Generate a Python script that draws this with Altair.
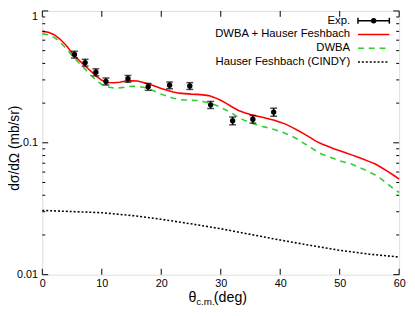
import altair as alt
import pandas as pd

# ---------------- data ----------------
exp_theta = [5.4, 7.2, 9.0, 10.7, 14.4, 17.8, 21.4, 24.8, 28.3, 32.0, 35.4, 38.9]
exp_sigma = [0.467, 0.406, 0.343, 0.292, 0.306, 0.266, 0.273, 0.270, 0.194, 0.147, 0.151, 0.171]
exp_err = [0.028, 0.024, 0.021, 0.018, 0.018, 0.016, 0.016, 0.016, 0.012, 0.010, 0.010, 0.012]

red_theta = list(range(0, 61))
red_sigma = [0.70, 0.69, 0.66, 0.61, 0.55, 0.48, 0.43, 0.39, 0.355, 0.322,
             0.298, 0.287, 0.285, 0.288, 0.294, 0.296, 0.294, 0.287, 0.278, 0.268,
             0.258, 0.250, 0.243, 0.238, 0.236, 0.234, 0.233, 0.231, 0.228, 0.220,
             0.210, 0.198, 0.186, 0.176, 0.169, 0.164, 0.160, 0.156, 0.152, 0.148,
             0.143, 0.138, 0.131, 0.124, 0.117, 0.110, 0.103, 0.098, 0.094, 0.090,
             0.087, 0.084, 0.081, 0.078, 0.075, 0.072, 0.069, 0.065, 0.061, 0.057,
             0.053]

green_theta = list(range(0, 61))
green_sigma = [0.67, 0.66, 0.63, 0.58, 0.52, 0.46, 0.41, 0.37, 0.33, 0.30,
               0.277, 0.265, 0.260, 0.261, 0.265, 0.268, 0.268, 0.264, 0.256, 0.245,
               0.234, 0.225, 0.218, 0.213, 0.211, 0.210, 0.209, 0.206, 0.201, 0.194,
               0.186, 0.176, 0.166, 0.156, 0.148, 0.142, 0.137, 0.133, 0.130, 0.126,
               0.122, 0.117, 0.112, 0.106, 0.099, 0.093, 0.087, 0.082, 0.079, 0.076,
               0.073, 0.071, 0.069, 0.066, 0.063, 0.060, 0.057, 0.053, 0.049, 0.045,
               0.042]

hf_theta = [0, 5, 10, 15, 20, 25, 30, 35, 40, 45, 50, 55, 60]
hf_sigma = [0.0307, 0.0301, 0.0295, 0.0281, 0.0263, 0.0243, 0.0223, 0.0202, 0.0183,
            0.0167, 0.0153, 0.0143, 0.0136]

x_ticks = [0, 10, 20, 30, 40, 50, 60]
y_major = [0.01, 0.1, 1]
y_minor = [0.02, 0.03, 0.04, 0.05, 0.06, 0.07, 0.08, 0.09,
           0.2, 0.3, 0.4, 0.5, 0.6, 0.7, 0.8, 0.9]

legend_labels = ["Exp.", "DWBA + Hauser Feshbach", "DWBA", "Hauser Feshbach (CINDY)"]

# ---------------- layout ----------------
W, H = 364, 269
FONT = "Liberation Sans"
RED = "#ff0000"
GREEN = "#33cc33"

xscale = alt.Scale(domain=[0, 60], nice=False, zero=False)
yscale = alt.Scale(type="log", domain=[0.01, 1], nice=False)

x_axis = alt.Axis(values=x_ticks, title=None, domain=False, ticks=False, grid=False,
                  labelFont=FONT, labelFontSize=11, labelColor="black",
                  labelPadding=3, labelFlush=False, labelOverlap=False)
y_axis = alt.Axis(values=y_major, format="~g", title=None, domain=False, ticks=False,
                  grid=False, labelFont=FONT, labelFontSize=11, labelColor="black",
                  labelPadding=5, labelFlush=False, labelOverlap=False,
                  labelBaseline=alt.expr("datum.value == 1 ? 'top' : 'middle'"))


def X(field):
    return alt.X(field, type="quantitative", scale=xscale, axis=x_axis)


def Y(field):
    return alt.Y(field, type="quantitative", scale=yscale, axis=y_axis)


exp_df = pd.DataFrame({
    "theta": exp_theta,
    "sigma": exp_sigma,
    "lo": [s - e for s, e in zip(exp_sigma, exp_err)],
    "hi": [s + e for s, e in zip(exp_sigma, exp_err)],
})
red_df = pd.DataFrame({"theta": red_theta, "sigma": red_sigma})
green_df = pd.DataFrame({"theta": green_theta, "sigma": green_sigma})
hf_df = pd.DataFrame({"theta": hf_theta, "sigma": hf_sigma})
xt_df = pd.DataFrame({"v": x_ticks})
ymaj_df = pd.DataFrame({"v": y_major})
ymin_df = pd.DataFrame({"v": y_minor})
one = pd.DataFrame({"k": [0]})

# curves
hf_line = alt.Chart(hf_df).mark_line(color="black", strokeWidth=1.6, strokeDash=[2, 2]).encode(
    x=X("theta"), y=Y("sigma"))
green_line = alt.Chart(green_df).mark_line(color=GREEN, strokeWidth=1.6, strokeDash=[6, 5]).encode(
    x=X("theta"), y=Y("sigma"))
red_line = alt.Chart(red_df).mark_line(color=RED, strokeWidth=1.6).encode(
    x=X("theta"), y=Y("sigma"))

# experimental points
err_bar = alt.Chart(exp_df).mark_rule(color="black", strokeWidth=1.5).encode(
    x=X("theta"), y=Y("lo"), y2="hi")
cap_lo = alt.Chart(exp_df).mark_tick(color="black", orient="horizontal", size=7, thickness=1.5).encode(
    x=X("theta"), y=Y("lo"))
cap_hi = alt.Chart(exp_df).mark_tick(color="black", orient="horizontal", size=7, thickness=1.5).encode(
    x=X("theta"), y=Y("hi"))
pts = alt.Chart(exp_df).mark_circle(color="black", size=30, opacity=1).encode(
    x=X("theta"), y=Y("sigma"))

# inward ticks on all four sides
tick_style = dict(color="black", strokeWidth=1)
xt_bot = alt.Chart(xt_df).mark_rule(**tick_style).encode(
    x=X("v"), y=alt.value(H), y2=alt.value(H - 6))
xt_top = alt.Chart(xt_df).mark_rule(**tick_style).encode(
    x=X("v"), y=alt.value(0), y2=alt.value(6))
yt_maj_l = alt.Chart(ymaj_df).mark_rule(**tick_style).encode(
    y=Y("v"), x=alt.value(0), x2=alt.value(6))
yt_maj_r = alt.Chart(ymaj_df).mark_rule(**tick_style).encode(
    y=Y("v"), x=alt.value(W), x2=alt.value(W - 6))
yt_min_l = alt.Chart(ymin_df).mark_rule(**tick_style).encode(
    y=Y("v"), x=alt.value(0), x2=alt.value(3))
yt_min_r = alt.Chart(ymin_df).mark_rule(**tick_style).encode(
    y=Y("v"), x=alt.value(W), x2=alt.value(W - 3))

# legend (gnuplot style: text to the left of the sample)
LX_T = 314
LX0, LX1 = 322, 354
rows = [10, 24, 38, 52]
leg = []
for lab, ry in zip(legend_labels, rows):
    leg.append(alt.Chart(one).mark_text(align="right", baseline="middle", font=FONT,
                                        fontSize=11.5, color="black").encode(
        x=alt.value(LX_T), y=alt.value(ry), text=alt.value(lab)))
leg.append(alt.Chart(one).mark_rule(color="black", strokeWidth=1.5).encode(
    x=alt.value(LX0), x2=alt.value(LX1), y=alt.value(rows[0])))
leg.append(alt.Chart(one).mark_rule(color="black", strokeWidth=1.5).encode(
    x=alt.value(LX0), y=alt.value(rows[0] - 3), y2=alt.value(rows[0] + 3)))
leg.append(alt.Chart(one).mark_rule(color="black", strokeWidth=1.5).encode(
    x=alt.value(LX1), y=alt.value(rows[0] - 3), y2=alt.value(rows[0] + 3)))
leg.append(alt.Chart(one).mark_circle(color="black", size=30, opacity=1).encode(
    x=alt.value((LX0 + LX1) / 2), y=alt.value(rows[0])))
leg.append(alt.Chart(one).mark_rule(color=RED, strokeWidth=1.6).encode(
    x=alt.value(LX0), x2=alt.value(LX1), y=alt.value(rows[1])))
leg.append(alt.Chart(one).mark_rule(color=GREEN, strokeWidth=1.6, strokeDash=[6, 5]).encode(
    x=alt.value(LX0), x2=alt.value(LX1), y=alt.value(rows[2])))
leg.append(alt.Chart(one).mark_rule(color="black", strokeWidth=1.6, strokeDash=[2, 2]).encode(
    x=alt.value(LX0), x2=alt.value(LX1), y=alt.value(rows[3])))

# axis titles
ytitle = alt.Chart(one).mark_text(align="center", baseline="middle", angle=270, font=FONT,
                                  fontSize=14, color="black").encode(
    x=alt.value(-27.5), y=alt.value(140), text=alt.value("dσ/dΩ (mb/sr)"))
xt_theta = alt.Chart(one).mark_text(align="left", baseline="alphabetic", font=FONT,
                                    fontSize=14.5, color="black").encode(
    x=alt.value(149), y=alt.value(297), text=alt.value("θ"))
xt_sub = alt.Chart(one).mark_text(align="left", baseline="alphabetic", font=FONT,
                                  fontSize=10, color="black").encode(
    x=alt.value(157), y=alt.value(300), text=alt.value("c.m."))
xt_deg = alt.Chart(one).mark_text(align="left", baseline="alphabetic", font=FONT,
                                  fontSize=14.5, color="black").encode(
    x=alt.value(175), y=alt.value(297), text=alt.value("(deg)"))

chart = alt.layer(
    hf_line, green_line, red_line, err_bar, cap_lo, cap_hi, pts,
    xt_bot, xt_top, yt_maj_l, yt_maj_r, yt_min_l, yt_min_r,
    *leg, ytitle, xt_theta, xt_sub, xt_deg,
).properties(
    width=W, height=H,
    autosize=alt.AutoSizeParams(type="none"),
    padding={"left": 35, "top": 0, "right": 8, "bottom": 31},
).configure_view(
    stroke="black", strokeWidth=1.6
).configure(background="white")

chart.save("out.html", embed_options={"renderer": "svg", "actions": False})
